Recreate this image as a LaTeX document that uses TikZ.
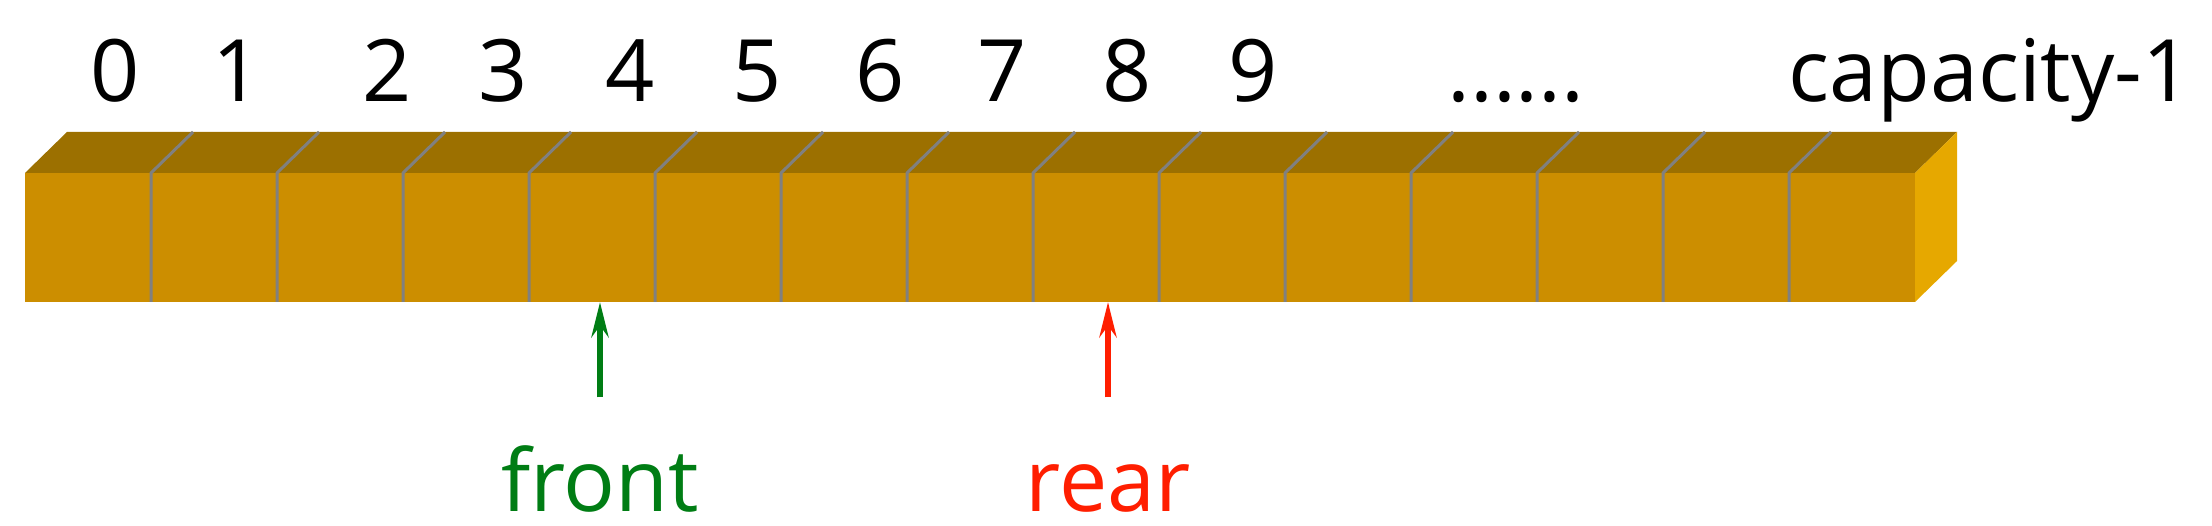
\documentclass[tikz,border=0pt]{standalone}
\usepackage{fontspec}
\setmainfont{Open Sans}
\usepackage{tikz}
\usetikzlibrary{arrows.meta, calc, positioning}
\definecolor{cellfront}{RGB}{204,142,0}
\definecolor{celltop}{RGB}{156,112,0}
\definecolor{cellside}{RGB}{230,168,0}
\definecolor{divgray}{RGB}{128,128,128}
\definecolor{frontgreen}{RGB}{0,125,20}
\definecolor{rearred}{RGB}{255,30,0}

\begin{document}
\begin{tikzpicture}[x=0.1mm, y=-0.1mm, >={Stealth[length=3.5mm,width=1.7mm]}]
	\tikzset{cell/.style={fill=cellfront, minimum width=12.6mm, minimum height=12.9mm, inner sep=0pt, outer sep=0pt},
		index/.style={anchor=base, inner sep=0pt, font=\fontsize{24.5}{29}\selectfont},
		tag/.style={index, text height=6.5mm},
		divider/.style={draw=divgray, line width=0.3mm},
		ptr/.style={->, line width=0.6mm, shorten <=4.9mm}}
	\useasboundingbox (0,0) rectangle (2212,526);
	\foreach \i in {0,...,14}
		\node[cell] (c\i) at (88+126*\i,237.5) {};
	\fill[celltop] (c0.north west) -- ++(42,-41) -- ($(c14.north east)+(42,-41)$) -- (c14.north east) -- cycle;
	\fill[cellside] (c14.north east) -- ++(42,-41) -- ++(0,129) -- (c14.south east) -- cycle;
	\foreach \i in {0,...,13}
		\draw[divider] (c\i.south east) -- (c\i.north east) -- ++(42,-41);
	\node[index] (i0) at (115,102) {0};
	\node[index] (i1) at (237,102) {1};
	\node[index] (i2) at (387,102) {2};
	\node[index] (i3) at (503,102) {3};
	\node[index] (i4) at (630,102) {4};
	\node[index] (i5) at (757,102) {5};
	\node[index] (i6) at (880,102) {6};
	\node[index] (i7) at (1002,102) {7};
	\node[index] (i8) at (1127,102) {8};
	\node[index] (i9) at (1253,102) {9};
	\node[index] (dots) at (1516,102) {......};
	\node[index] (last) at (1990,102) {capacity-1};
	\node[tag, text=frontgreen] (front) at (600,512) {front};
	\node[tag, text=rearred] (rear) at (1108,512) {rear};
	\draw[ptr, frontgreen] (front.north) -- (front.north |- c4.south);
	\draw[ptr, rearred] (rear.north) -- (rear.north |- c8.south);
\end{tikzpicture}
\end{document}
